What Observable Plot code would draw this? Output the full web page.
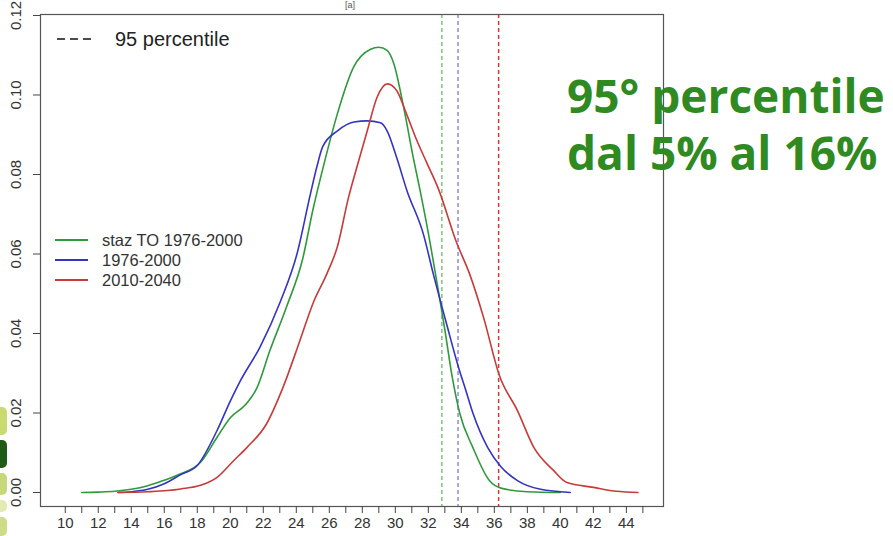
<!DOCTYPE html>
<html>
<head>
<meta charset="utf-8">
<script src="https://cdn.jsdelivr.net/npm/d3@7"></script>
<script src="https://cdn.jsdelivr.net/npm/@observablehq/plot@0.6"></script>
<style>
  html, body { margin: 0; padding: 0; background: #fff; }
  #wrap { position: relative; width: 893px; height: 536px; overflow: hidden; }
  #overlay { position: absolute; left: 0; top: 0; pointer-events: none; }
</style>
</head>
<body>
<div id="wrap">
  <div id="chart"></div>
  <svg id="overlay" width="893" height="536"></svg>
</div>
<script>
// ---- data ----
const seriesNames = ["staz TO 1976-2000", "1976-2000", "2010-2040"];
const seriesColors = ["#2e9a3c", "#3434c2", "#c83a3a"];
const percentileColors = ["#7cc47c", "#8a8ae6", "#cc3a3a"];
const percentile95 = [32.82, 33.8, 36.26];

const stazTO = [
  [11.0, 0], [12.0, 0.0001], [13.0, 0.0003], [14.0, 0.0008], [15.0, 0.0017],
  [16.0, 0.0031], [17.0, 0.0047], [18.2, 0.0076], [19.2, 0.0139], [20.0, 0.0188],
  [20.9, 0.0220], [21.6, 0.0262], [22.4, 0.0357], [23.4, 0.0466], [24.4, 0.059],
  [25.0, 0.071], [25.7, 0.083], [26.47, 0.095], [27.47, 0.107], [28.5, 0.1115],
  [29.0, 0.112], [29.5, 0.1112], [29.9, 0.108], [30.5, 0.097], [31.1, 0.084],
  [31.5, 0.076], [32.1, 0.063], [32.6, 0.051], [33.0, 0.041], [33.45, 0.029],
  [33.9, 0.020], [34.7, 0.0113], [35.7, 0.003], [36.4, 0.0011], [38.0, 0.0002], [40.0, 0]
];
const base7600 = [
  [13.2, 0], [14.0, 0.0002], [15.0, 0.0008], [16.0, 0.0022], [17.0, 0.0045],
  [18.0, 0.0068], [19.2, 0.0156], [20.0, 0.023], [20.6, 0.028], [21.8, 0.0366],
  [23.03, 0.048], [24.04, 0.060], [24.85, 0.075], [25.25, 0.082], [25.6, 0.087],
  [26.5, 0.091], [27.5, 0.0932], [28.3, 0.0935], [29.1, 0.093], [29.5, 0.091],
  [30.1, 0.084], [30.7, 0.076], [31.7, 0.065], [32.3, 0.055], [33.1, 0.0425],
  [33.9, 0.0305], [34.25, 0.026], [34.7, 0.020], [35.6, 0.0113], [36.4, 0.0065],
  [37.4, 0.003], [38.8, 0.0008], [40.6, 0]
];
const scen1040 = [
  [13.2, 0], [15.0, 0.0002], [16.2, 0.0005], [17.0, 0.0009], [18.2, 0.0018],
  [19.2, 0.0038], [20.2, 0.008], [21.0, 0.0113], [22.2, 0.0173], [23.2, 0.0265],
  [24.2, 0.038], [25.05, 0.048], [25.85, 0.055], [26.5, 0.062], [27.15, 0.074],
  [27.75, 0.083], [28.3, 0.091], [28.9, 0.0995], [29.53, 0.1028], [30.1, 0.101],
  [30.7, 0.095], [31.3, 0.0886], [31.9, 0.083], [32.6, 0.0765], [33.7, 0.063],
  [34.5, 0.055], [35.35, 0.044], [36.3, 0.0295], [37.4, 0.0206], [38.4, 0.0113],
  [39.6, 0.0055], [40.4, 0.0025], [42.0, 0.0013], [43.4, 0.0003], [44.7, 0]
];
const xTicks = [10,11,12,13,14,15,16,17,18,19,20,21,22,23,24,25,26,27,28,29,30,31,32,33,34,35,36,37,38,39,40,41,42,43,44,45];
const yTicks = [0, 0.02, 0.04, 0.06, 0.08, 0.10, 0.12];
const legendTitle = "95 percentile";
const panelTag = "[a]";
const annotation = ["95° percentile", "dal 5% al 16%"];

// ---- build rows ----
const rows = [];
[stazTO, base7600, scen1040].forEach((arr, i) => {
  arr.forEach(([x, y]) => rows.push({series: seriesNames[i], x, y}));
});
const pctRows = percentile95.map((v, i) => ({series: seriesNames[i], x: v, color: percentileColors[i]}));

const chart = Plot.plot({
  width: 893,
  height: 536,
  marginLeft: 40,
  marginRight: 230,
  marginTop: 14,
  marginBottom: 30,
  x: {domain: [8.5, 46.25], label: null},
  y: {domain: [-0.00352, 0.12025], label: null},
  color: {domain: seriesNames, range: seriesColors},
  style: {fontFamily: "'Liberation Sans', Arial, sans-serif", fontSize: "15px", color: "#444", background: "transparent"},
  marks: [
    Plot.ruleX(pctRows, {x: "x", stroke: "color", strokeWidth: 1.5, strokeDasharray: "4,3"}),
    Plot.line(rows, {x: "x", y: "y", z: "series", stroke: "series", strokeWidth: 1.6, curve: "monotone-x"}),
    Plot.frame({stroke: "#555", strokeWidth: 1.2}),
    Plot.axisX({ticks: xTicks, tickFormat: d => d % 2 === 0 ? String(d) : "", tickSize: 7, tickPadding: 4, fill: "#333", label: null}),
    Plot.axisY({ticks: yTicks, tickFormat: () => "", tickSize: 7, label: null}),
    Plot.text(yTicks, {y: d => d, text: d => d3.format(".2f")(d), frameAnchor: "left", dx: -24, rotate: -90, textAnchor: "middle", lineAnchor: "middle", fill: "#333", fontSize: 15})
  ]
});
document.getElementById("chart").appendChild(chart);

// ---- overlay: legends and annotation (real text) ----
const ov = d3.select("#overlay");
// left-edge slide decoration
[[407, 28, "#c9da6e"], [440, 28, "#1f5a16"], [473, 22, "#c6d97a"], [500, 12, "#e3ebb4"], [517, 19, "#cddc86"]]
  .forEach(([y, h, c]) => ov.append("rect").attr("x", -6).attr("y", y).attr("width", 13).attr("height", h).attr("rx", 5).attr("fill", c));

ov.append("text").attr("x", 350).attr("y", 8).attr("text-anchor", "middle")
  .attr("font-family", "'Liberation Sans', Arial").attr("font-size", 9).attr("fill", "#555").text(panelTag);

// percentile legend
ov.append("line").attr("x1", 57).attr("x2", 91).attr("y1", 39).attr("y2", 39)
  .attr("stroke", "#111").attr("stroke-width", 1.6).attr("stroke-dasharray", "8,5");
ov.append("text").attr("x", 115).attr("y", 46).attr("font-family", "'Liberation Sans', Arial")
  .attr("font-size", 20).attr("fill", "#222").text(legendTitle);

// series legend
seriesNames.forEach((name, i) => {
  const y = 240 + i * 20;
  ov.append("line").attr("x1", 55).attr("x2", 88).attr("y1", y).attr("y2", y)
    .attr("stroke", seriesColors[i]).attr("stroke-width", 1.8);
  ov.append("text").attr("x", 102).attr("y", y + 5.5).attr("font-family", "'Liberation Sans', Arial")
    .attr("font-size", 16.5).attr("fill", "#333").text(name);
});

// green annotation
annotation.forEach((t, i) => {
  ov.append("text").attr("x", 567).attr("y", 113 + i * 57)
    .attr("font-family", "'Open Sans', 'Noto Sans', sans-serif").attr("font-weight", 700)
    .attr("font-size", 46).attr("fill", "#2f8a22").text(t);
});
</script>
</body>
</html>
